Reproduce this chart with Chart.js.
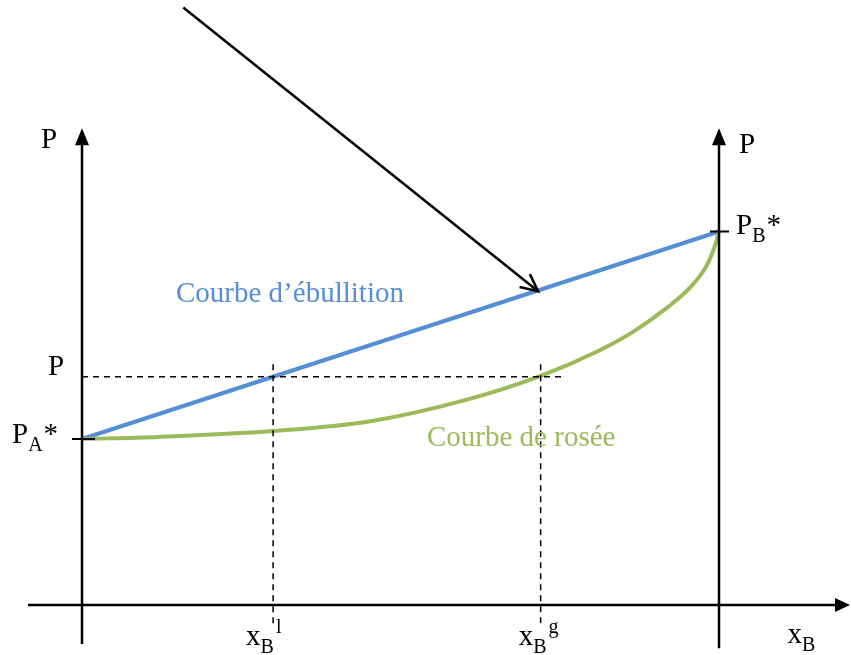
<!DOCTYPE html>
<html>
<head>
<meta charset="utf-8">
<script src="https://cdn.jsdelivr.net/npm/chart.js@4"></script>
<style>
  body { margin: 0; background: #fff; }
  canvas { display: block; }
</style>
</head>
<body>
<canvas id="diagram" width="851" height="655"></canvas>
<script>
// pressures of pure A and pure B, and the working pressure P
var pA = 40;
var pB = 90;
var pLevel = 55;

// liquid and vapour compositions read at P
var xLiq = 0.3;
var xGas = 0.72;

// bubble curve (straight line, Raoult)
var xBubble = [0, 1];
var pBubble = [40, 90];

// dew curve
var xDew = [0, 0.12, 0.3, 0.45, 0.6, 0.72, 0.813, 0.865, 0.918, 0.954, 0.981, 0.994, 1];
var pDew = [40, 40.5, 41.9, 44.2, 49.3, 55.2, 61.4, 65.8, 71.6, 76.4, 81.9, 86.7, 90];

// pointer towards the bubble curve
var xPointer = [0.159, 0.716];
var pPointer = [144, 75.6];

const blue = '#558ED5';
const green = '#9BBB59';
const serif = '"Liberation Serif", "Times New Roman", serif';

let pts = (xs, ys) => xs.map((v, i) => ({x: v, y: ys[i]}));

let lineSet = (data, color, width, dash) => ({
    data: data,
    showLine: true,
    borderColor: color,
    borderWidth: width,
    borderDash: dash || [],
    pointRadius: 0,
    fill: false
});

// axes, arrows and labels
const drawings = {
    id: 'drawings',
    afterDatasetsDraw(chart) {
        const ctx = chart.ctx;
        const sx = chart.scales.x, sy = chart.scales.y;
        const X = v => sx.getPixelForValue(v);
        const Y = v => sy.getPixelForValue(v);

        ctx.save();
        ctx.strokeStyle = '#000';
        ctx.fillStyle = '#000';
        ctx.lineWidth = 2.5;

        let head = (tx, ty, dir) => {
            // filled triangle, dir: 'up' or 'right'
            ctx.beginPath();
            if (dir == 'up') {
                ctx.moveTo(tx, ty);
                ctx.lineTo(tx - 7, ty + 17);
                ctx.lineTo(tx + 7, ty + 17);
            } else {
                ctx.moveTo(tx, ty);
                ctx.lineTo(tx - 15, ty - 7);
                ctx.lineTo(tx - 15, ty + 7);
            }
            ctx.closePath();
            ctx.fill();
        };

        // vertical axes
        let top = Y(114.9);
        [[0, -9.4], [1, -10.4]].forEach(a => {
            ctx.beginPath();
            ctx.moveTo(X(a[0]), Y(a[1]));
            ctx.lineTo(X(a[0]), top + 10);
            ctx.stroke();
            head(X(a[0]), top, 'up');
        });

        // horizontal axis
        let right = chart.width - 1;
        ctx.beginPath();
        ctx.moveTo(28, Y(0));
        ctx.lineTo(right - 10, Y(0));
        ctx.stroke();
        head(right, Y(0), 'right');

        // ticks at the pure-component pressures
        ctx.lineWidth = 2;
        ctx.beginPath();
        ctx.moveTo(X(0) - 10, Y(pA));
        ctx.lineTo(X(0) + 13, Y(pA));
        ctx.moveTo(X(1) - 9, Y(pB));
        ctx.lineTo(X(1) + 10, Y(pB));
        ctx.stroke();

        // open arrowhead of the pointer
        ctx.lineWidth = 2.5;
        let x0 = X(xPointer[0]), y0 = Y(pPointer[0]);
        let x1 = X(xPointer[1]), y1 = Y(pPointer[1]);
        let ang = Math.atan2(y1 - y0, x1 - x0);
        ctx.beginPath();
        ctx.moveTo(x1 - 19 * Math.cos(ang - 0.45), y1 - 19 * Math.sin(ang - 0.45));
        ctx.lineTo(x1, y1);
        ctx.lineTo(x1 - 19 * Math.cos(ang + 0.45), y1 - 19 * Math.sin(ang + 0.45));
        ctx.stroke();

        // text
        ctx.textBaseline = 'alphabetic';
        ctx.textAlign = 'left';
        let big = '29px ' + serif;
        let small = '20px ' + serif;
        let label = (x, y, main, sub, sup, after) => {
            ctx.font = big;
            ctx.fillText(main, x, y);
            let w = ctx.measureText(main).width;
            let end = x + w;
            if (sub) {
                ctx.font = small;
                ctx.fillText(sub, x + w, y + 8);
                end = x + w + ctx.measureText(sub).width;
            }
            if (sup) {
                ctx.font = small;
                ctx.fillText(sup, end + 2, y - 12);
            }
            if (after) {
                ctx.font = big;
                ctx.fillText(after, end + 1, y);
            }
        };

        label(X(0) - 41, top + 20, 'P');
        label(X(1) + 20, top + 25, 'P');
        label(X(0) - 34, Y(pLevel) - 2, 'P');
        label(X(0) - 70, Y(pA) + 4, 'P', 'A', null, '*');
        label(X(1) + 17, Y(pB) + 2, 'P', 'B', null, '*');

        label(X(xLiq) - 27, Y(0) + 40, 'x', 'B', 'l');
        label(X(xGas) - 22, Y(0) + 40, 'x', 'B', 'g');
        label(X(1.2) - 59, Y(0) + 38, 'x', 'B');

        ctx.font = big;
        ctx.fillStyle = blue;
        ctx.fillText('Courbe d\u2019ébullition', 176, 302);
        ctx.fillStyle = green;
        ctx.fillText('Courbe de rosée', 427, 446);

        ctx.restore();
    }
};

new Chart(document.getElementById('diagram'), {
    type: 'scatter',
    data: {
        datasets: [
            lineSet(pts([0, xGas + 0.035], [pLevel, pLevel]), '#000', 1.5, [6, 5]),
            lineSet(pts([xLiq, xLiq], [58, -4.8]), '#000', 1.5, [6, 5]),
            lineSet(pts([xGas, xGas], [58, -4.8]), '#000', 1.5, [6, 5]),
            Object.assign(lineSet(pts(xDew, pDew), green, 4), {cubicInterpolationMode: 'monotone'}),
            lineSet(pts(xBubble, pBubble), blue, 4),
            lineSet(pts(xPointer, pPointer), '#000', 2.5)
        ]
    },
    options: {
        responsive: false,
        animation: false,
        devicePixelRatio: 1,
        layout: { padding: 0 },
        plugins: {
            legend: { display: false },
            tooltip: { enabled: false }
        },
        scales: {
            x: { type: 'linear', min: -82 / 637, max: 769 / 637, display: false },
            y: { type: 'linear', min: -50 / 4.15, max: 605 / 4.15, display: false }
        }
    },
    plugins: [drawings]
});
</script>
</body>
</html>
